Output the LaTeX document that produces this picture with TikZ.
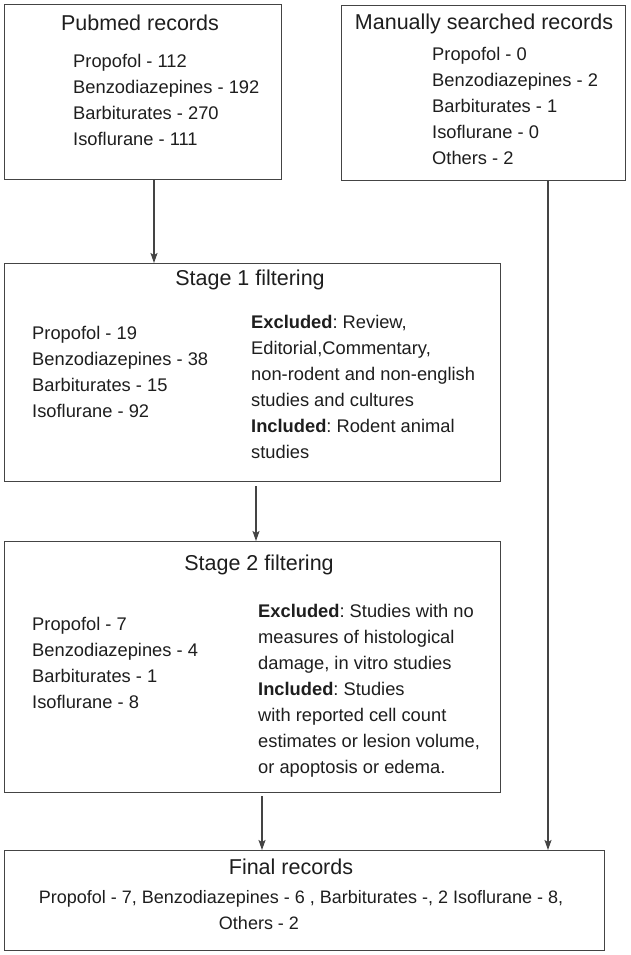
\documentclass[tikz,border=0pt]{standalone}
\usepackage{fontspec}
\setmainfont{Liberation Sans}
\usetikzlibrary{arrows.meta}
\definecolor{boxgray}{HTML}{444444}
\definecolor{inkc}{HTML}{1E1E1E}
\newcommand\itemlines[1]{\vtop{\baselineskip=26pt\lineskiplimit=-20pt\lineskip=0pt\halign{##\hfil\cr#1\crcr}}}
\frenchspacing
\begin{document}
\begin{tikzpicture}[x=1pt,y=-1pt,
  box/.style={draw=boxgray, line width=1.4pt, anchor=north west, inner sep=0pt},
  ttl/.style={anchor=base, inner sep=0pt, text=inkc, font=\fontsize{21.5}{26}\selectfont},
  body/.style={anchor=base west, inner sep=0pt, text=inkc, font=\fontsize{18.3}{26}\selectfont\frenchspacing},
  bodyc/.style={anchor=base, inner sep=0pt, text=inkc, font=\fontsize{18}{26}\selectfont\frenchspacing},
  arr/.style={draw=boxgray, line width=1.2pt, -{Stealth[length=10pt,width=7pt,inset=2pt]}}]
\useasboundingbox[fill=white] (0,0) rectangle (630,955);

% boxes
\node[box, minimum width=277pt, minimum height=175pt] (pub) at (4,4) {};
\node[box, minimum width=284pt, minimum height=175pt] (man) at (341,5) {};
\node[box, minimum width=496pt, minimum height=218pt] (s1) at (4,263) {};
\node[box, minimum width=496pt, minimum height=251pt] (s2) at (4,541) {};
\node[box, minimum width=600pt, minimum height=100pt] (fin) at (4,850) {};

% Pubmed
\node[ttl] (pubt) at (140,31) {Pubmed records};
\node[body] (pubi) at (73,68) {\itemlines{Propofol - 112\cr Benzodiazepines - 192\cr Barbiturates - 270\cr Isoflurane - 111}};

% Manual
\node[ttl] (mant) at (484,30) {Manually searched records};
\node[body] (mani) at (432,61) {\itemlines{Propofol - 0\cr Benzodiazepines - 2\cr Barbiturates - 1\cr Isoflurane - 0\cr Others - 2}};

% Stage 1
\node[ttl] (s1t) at (250,285) {Stage 1 filtering};
\node[body] (s1i) at (32,339) {\itemlines{Propofol - 19\cr Benzodiazepines - 38\cr Barbiturates - 15\cr Isoflurane - 92}};
\node[body] (s1e) at (251,328) {\itemlines{\textbf{Excluded}: Review,\cr Editorial,Commentary,\cr non-rodent and non-english\cr studies and cultures\cr \textbf{Included}: Rodent animal\cr studies}};

% Stage 2
\node[ttl] (s2t) at (259,570) {Stage 2 filtering};
\node[body] (s2i) at (32,630) {\itemlines{Propofol - 7\cr Benzodiazepines - 4\cr Barbiturates - 1\cr Isoflurane - 8}};
\node[body] (s2e) at (258,617) {\itemlines{\textbf{Excluded}: Studies with no\cr measures of histological\cr damage, in vitro studies\cr \textbf{Included}: Studies\cr with reported cell count\cr estimates or lesion volume,\cr or apoptosis or edema.}};

% Final
\node[ttl] (fint) at (291,874) {Final records};
\node[bodyc] (fin1) at (301,903) {Propofol - 7, Benzodiazepines - 6 , Barbiturates -, 2 Isoflurane - 8,};
\node[bodyc] (fin2) at (259,929) {Others - 2};

% arrows
\draw[arr] ([xshift=150pt]pub.south west) -- ([xshift=150pt]s1.north west);
\draw[arr] ([xshift=252pt,yshift=-4pt]s1.south west) -- ([xshift=252pt]s2.north west);
\draw[arr] ([xshift=258pt,yshift=-3pt]s2.south west) -- ([xshift=258pt]fin.north west);
\draw[arr] ([xshift=207pt]man.south west) -- ([xshift=544pt]fin.north west);
\end{tikzpicture}
\end{document}
